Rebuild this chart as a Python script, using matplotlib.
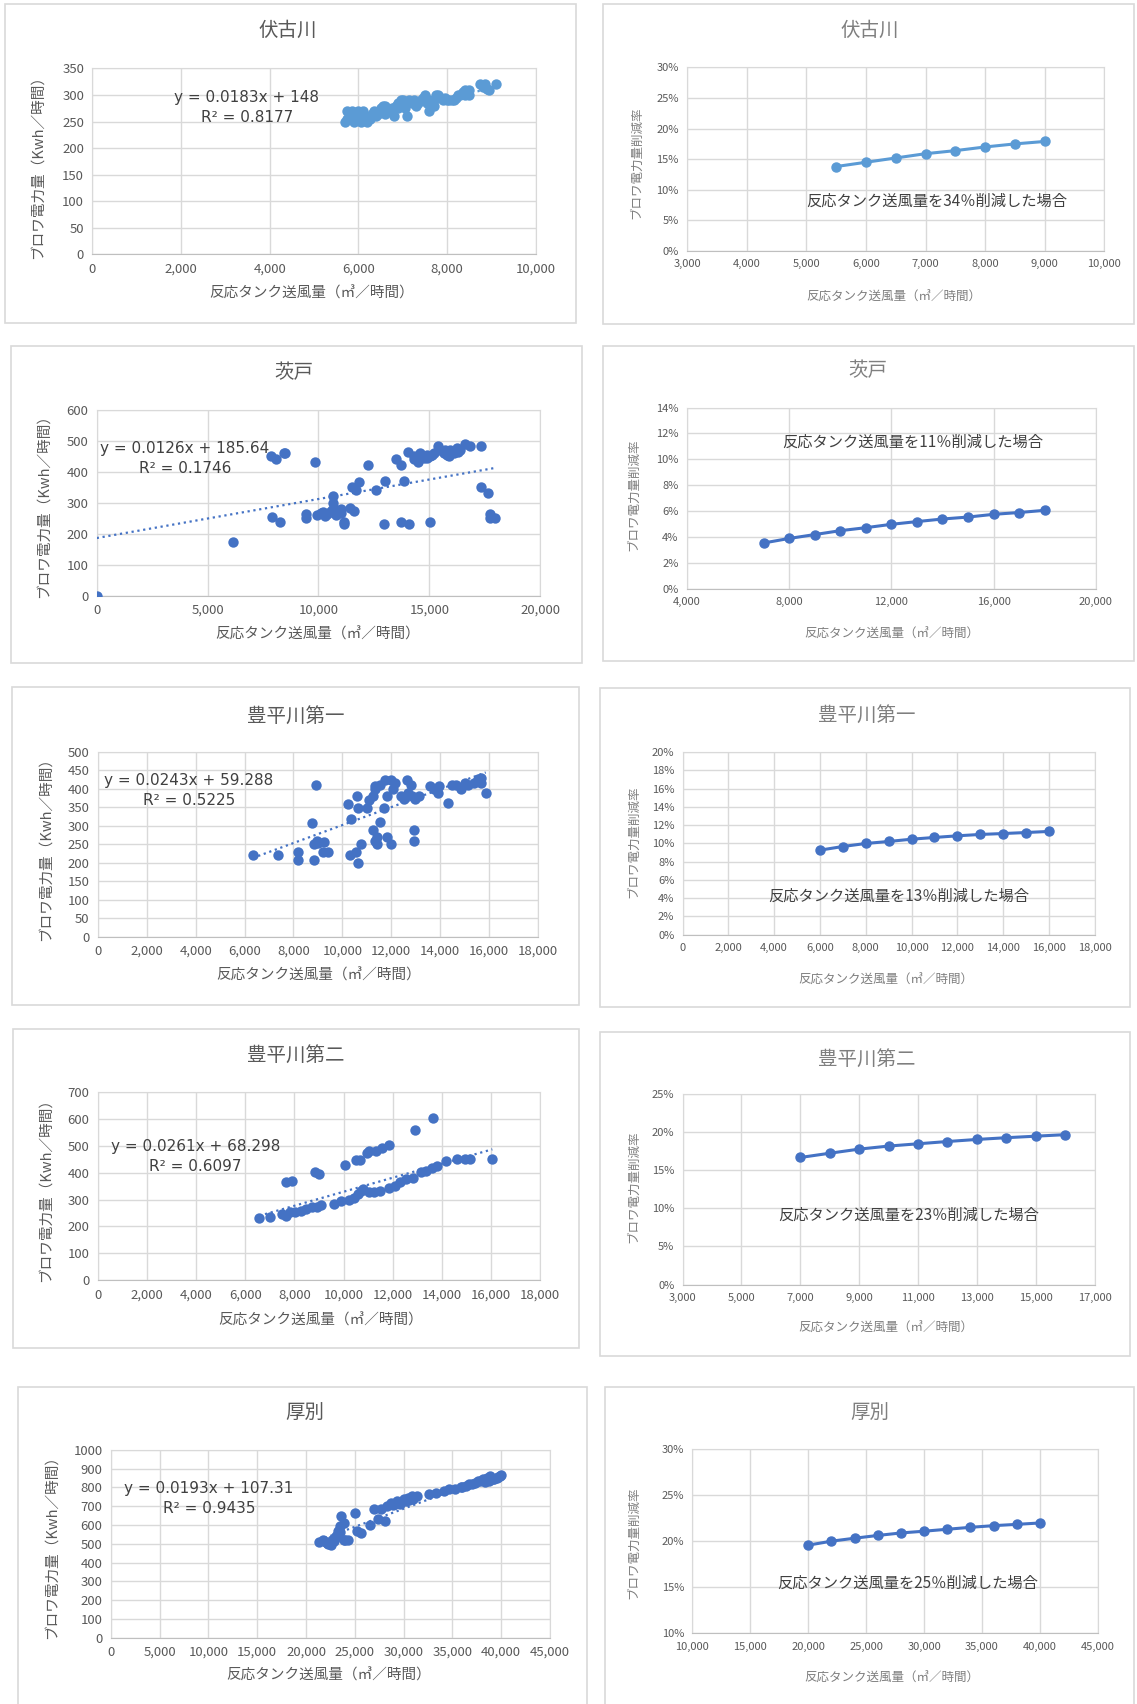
import numpy as np
import matplotlib.pyplot as plt
from matplotlib.patches import Rectangle
from matplotlib.ticker import FuncFormatter

plt.rcParams['font.family'] = ['Noto Sans CJK JP', 'DejaVu Sans']

# ---- data: left scatter panels (air volume m3/h, blower kWh/h) ----
fushiko_x = [5700, 5750, 5800, 5850, 5900, 5950, 6000, 6050, 6100, 6150, 6200, 6300, 6350, 6400,
             6500, 6550, 6600, 6700, 6750, 6800, 6850, 6900, 6950, 7000, 7050, 7100, 7150, 7200,
             7300, 7400, 7500, 7550, 7600, 7650, 7700, 7800, 7850, 7900, 8000, 8100, 8200, 8300,
             8400, 8450, 8500, 8750, 8850, 8950, 9100,
             5750, 5850, 5950, 6050, 6100, 6250, 6450, 6600, 6650, 6900, 7000, 7100, 7250, 7350,
             7450, 7600, 7700, 7750, 7950, 8050, 8150, 8250, 8350, 8400, 8500, 8800, 8900]
fushiko_y = [250, 270, 255, 260, 250, 265, 270, 250, 255, 260, 250, 265, 270, 260,
             275, 280, 265, 270, 275, 260, 280, 285, 290, 280, 275, 260, 290, 285,
             280, 290, 300, 285, 270, 280, 290, 300, 295, 290, 290, 290, 295, 300,
             310, 305, 300, 320, 320, 310, 320,
             255, 270, 255, 265, 270, 255, 265, 280, 270, 275, 290, 285, 290, 285,
             295, 290, 280, 300, 295, 290, 290, 300, 305, 300, 310, 315, 312]

barato_x = [0, 7850, 8100, 8430, 8500, 9840, 7900, 8270, 6140, 9430, 9430, 9930, 10100, 10300,
            10500, 10670, 10670, 10800, 11000, 11170, 11170, 11420, 11580, 11500, 11670, 11830,
            12250, 12580, 12950, 13000, 13490, 13740, 13740, 13860, 14040, 14070, 14300, 14450,
            14600, 14750, 14900, 15050, 15020, 15400, 15500, 15650, 15800, 15950, 16100, 16250,
            16400, 16600, 16810, 17310, 17340, 17640, 17730, 17730, 17980,
            14300, 14500, 14700, 14900, 15100, 15200, 15700, 15900, 16100, 16300,
            10200, 10400, 10600, 10800, 11000]
barato_y = [0, 452, 442, 460, 460, 431, 252, 239, 172, 264, 250, 261, 265, 258,
            270, 320, 298, 275, 268, 239, 232, 282, 272, 352, 342, 368,
            420, 342, 230, 371, 442, 420, 239, 371, 463, 230, 450, 440,
            460, 445, 455, 450, 239, 482, 470, 460, 455, 470, 465, 476,
            470, 489, 482, 482, 349, 331, 264, 250, 250,
            440, 430, 450, 445, 455, 460, 470, 450, 460, 465,
            270, 262, 275, 260, 280]

toyo1_x = [6330, 7380, 8180, 8180, 8750, 8930, 8820, 8850, 8950, 9000, 9230, 9200, 9420, 10230,
           10350, 10320, 10580, 10650, 10550, 10650, 10770, 10995, 11070, 11250, 11320, 11350,
           11270, 11350, 11430, 11400, 11550, 11550, 11700, 11750, 11820, 11820, 12000, 12000,
           12080, 12150, 12380, 12500, 12630, 12680, 12830, 12800, 12930, 12930, 12980, 13130,
           13580, 13730, 13950, 13920, 14300, 14480, 14630, 14850, 15000, 15150, 15380, 15530,
           15650, 15680, 15860]
toyo1_y = [220, 220, 230, 209, 309, 410, 209, 250, 260, 255, 257, 230, 230, 360,
           319, 220, 381, 349, 230, 200, 250, 349, 370, 381, 408, 399,
           290, 259, 250, 270, 412, 310, 349, 425, 381, 270, 425, 250,
           399, 417, 381, 372, 425, 390, 381, 410, 290, 259, 372, 381,
           408, 399, 408, 390, 361, 410, 410, 401, 417, 412, 417, 426,
           430, 417, 390]

toyo2_x = [7650, 7880, 8850, 9000, 10050, 10500, 10650, 10950, 11030, 11330, 11550, 11850, 12900,
           13620, 6570, 7020, 7500, 7650, 7800, 8020, 8250, 8480, 8700, 8930, 9100, 9600, 9900,
           10200, 10420, 10580, 10700, 10800, 11030, 11250, 11480, 11850, 12080, 12300, 12530,
           12830, 13130, 13350, 13580, 13800, 14180, 14630, 14930, 15150, 16050]
toyo2_y = [364, 370, 403, 397, 428, 446, 446, 475, 481, 481, 493, 503, 559,
           604, 232, 237, 247, 240, 253, 253, 259, 265, 271, 274, 281, 284, 296,
           300, 306, 321, 333, 339, 327, 327, 333, 345, 351, 364, 376,
           382, 401, 407, 419, 425, 444, 450, 450, 450, 452]

atsubetsu_x = [21360, 21750, 22130, 22520, 22900, 23100, 23290, 23480, 23600, 23870, 23870, 24260,
               25030, 25220, 25610, 26570, 26960, 27350, 27730, 28120, 28310, 28700, 29080, 29280,
               29660, 30050, 30440, 30820, 31400, 32560, 33340, 34110, 34690, 35270, 35850, 36430,
               37010, 37590, 38170, 38550, 38750, 39140, 39520, 39910,
               22000, 22300, 22700, 23000, 23300, 23500, 24000, 28900, 29500, 30200, 30600, 31000,
               36000, 36700, 37300, 37800, 38300, 38900, 39300, 39700, 40000]
atsubetsu_y = [510, 522, 504, 495, 513, 540, 567, 594, 647, 611, 522, 522,
               661, 567, 558, 602, 683, 629, 683, 620, 701, 719, 710, 727,
               710, 736, 745, 754, 754, 763, 772, 781, 790, 790, 799, 808,
               816, 834, 843, 852, 834, 843, 852, 861,
               510, 500, 520, 530, 550, 560, 520, 705, 720, 725, 735, 740,
               800, 815, 825, 835, 830, 860, 845, 855, 865]

# trendline coefficients shown on the charts
fits = [(0.0183, 148, '0.8177'), (0.0126, 185.64, '0.1746'), (0.0243, 59.288, '0.5225'),
        (0.0261, 68.298, '0.6097'), (0.0193, 107.31, '0.9435')]

# ---- data: right line panels (air volume, reduction rate %) ----
fushiko_lx = [5500, 6000, 6500, 7000, 7500, 8000, 8500, 9000]
fushiko_ly = [13.8, 14.5, 15.2, 15.9, 16.4, 17.0, 17.5, 17.9]
barato_lx = [7000, 8000, 9000, 10000, 11000, 12000, 13000, 14000, 15000, 16000, 17000, 18000]
barato_ly = [3.55, 3.9, 4.2, 4.5, 4.73, 4.99, 5.2, 5.4, 5.55, 5.76, 5.9, 6.07]
toyo1_lx = [6000, 7000, 8000, 9000, 10000, 11000, 12000, 13000, 14000, 15000, 16000]
toyo1_ly = [9.25, 9.65, 9.98, 10.2, 10.45, 10.64, 10.82, 10.97, 11.07, 11.18, 11.3]
toyo2_lx = [7000, 8000, 9000, 10000, 11000, 12000, 13000, 14000, 15000, 16000]
toyo2_ly = [16.7, 17.26, 17.8, 18.2, 18.5, 18.8, 19.07, 19.3, 19.5, 19.7]
atsubetsu_lx = [20000, 22000, 24000, 26000, 28000, 30000, 32000, 34000, 36000, 38000, 40000]
atsubetsu_ly = [19.55, 19.98, 20.3, 20.6, 20.87, 21.06, 21.27, 21.48, 21.66, 21.8, 21.95]

titles = ['伏古川', '茨戸', '豊平川第一', '豊平川第二', '厚別']
cuts = ['34', '11', '13', '23', '25']

W, H = 1046, 1568
GRID = '#d9d9d9'
TXT = '#595959'
C1 = '#5b9bd5'
C2 = '#4472c4'


def axes_at(fig, x0, y0, x1, y1):
    return fig.add_axes([x0 / W, 1 - y1 / H, (x1 - x0) / W, (y1 - y0) / H])


def frame(fig, x0, y0, x1, y1):
    fig.patches.append(Rectangle((x0 / W, 1 - y1 / H), (x1 - x0) / W, (y1 - y0) / H,
                                 transform=fig.transFigure, fill=False, ec=GRID, lw=1.2))


def text(fig, x, y, s, **kw):
    fig.text(x / W, 1 - y / H, s, ha='center', va='center', **kw)


def style(ax, xlim, xticks, ylim, yticks, fmt_y, fs):
    ax.set_xlim(*xlim)
    ax.set_ylim(*ylim)
    ax.set_xticks(xticks)
    ax.set_yticks(yticks)
    ax.xaxis.set_major_formatter(FuncFormatter(lambda v, p: f'{int(v):,}'))
    ax.yaxis.set_major_formatter(FuncFormatter(fmt_y))
    ax.grid(color=GRID, lw=1)
    ax.set_axisbelow(True)
    for s in ax.spines.values():
        s.set_color(GRID)
    ax.spines['bottom'].set_color('#bfbfbf')
    ax.tick_params(length=0, labelsize=fs, colors=TXT, pad=6)


fig = plt.figure(figsize=(11.37, 17.04), dpi=100)

# left panels: frame, plot box, title xy, xlabel xy, ylabel xy
left_layout = [
    ((5, 4, 530, 297), (85, 63, 493, 234), (265, 28), (287, 270), (35, 150)),
    ((10, 318, 535, 610), (89, 377, 497, 548), (270, 343), (292, 584), (40, 462)),
    ((11, 632, 533, 925), (90, 692, 495, 862), (272, 659), (293, 898), (42, 778)),
    ((12, 947, 533, 1240), (90, 1005, 497, 1178), (272, 971), (295, 1215), (42, 1092)),
    ((17, 1276, 540, 1580), (102, 1334, 506, 1507), (280, 1300), (302, 1542), (48, 1420)),
]
left_data = [(fushiko_x, fushiko_y), (barato_x, barato_y), (toyo1_x, toyo1_y),
             (toyo2_x, toyo2_y), (atsubetsu_x, atsubetsu_y)]
left_axes = [((0, 10000), range(0, 10001, 2000), (0, 350), range(0, 351, 50)),
             ((0, 20000), range(0, 20001, 5000), (0, 600), range(0, 601, 100)),
             ((0, 18000), range(0, 18001, 2000), (0, 500), range(0, 501, 50)),
             ((0, 18000), range(0, 18001, 2000), (0, 700), range(0, 701, 100)),
             ((0, 45000), range(0, 45001, 5000), (0, 1000), range(0, 1001, 100))]
eq_pos = [(0.348, 0.842, 0.737), (0.199, 0.79, 0.684), (0.207, 0.847, 0.735),
          (0.221, 0.711, 0.607), (0.223, 0.792, 0.688)]

for i in range(5):
    fr, box, tp, xp, yp = left_layout[i]
    frame(fig, *fr)
    ax = axes_at(fig, *box)
    xs, ys = left_data[i]
    col = C1 if i == 0 else C2
    xlim, xt, ylim, yt = left_axes[i]
    style(ax, xlim, xt, ylim, yt, lambda v, p: f'{int(v)}', 9.5)
    ax.scatter(xs, ys, s=56, color=col, zorder=3, lw=0)
    a, b, r2 = fits[i]
    lo = 0 if i == 1 else min(xs)
    tx = np.array([lo, max(xs)])
    ax.plot(tx, a * tx + b, ls=':', color=col, lw=1.6, zorder=4)
    ex, ey, ry = eq_pos[i]
    ax.text(ex, ey, f'y = {a}x + {b}', transform=ax.transAxes, ha='center', va='center',
            fontsize=11, color='#404040', family='DejaVu Sans')
    ax.text(ex, ry, f'R² = {r2}', transform=ax.transAxes, ha='center', va='center',
            fontsize=11, color='#404040', family='DejaVu Sans')
    text(fig, *tp, titles[i], fontsize=14, color=TXT)
    text(fig, *xp, '反応タンク送風量（㎥／時間）', fontsize=10.5, color=TXT)
    text(fig, *yp, 'ブロワ電力量（Kwh／時間）', fontsize=10.5, color=TXT, rotation=90)

# right panels
right_layout = [
    ((555, 4, 1043, 298), (632, 62, 1016, 231), (800, 28), (822, 274), (586, 150)),
    ((555, 318, 1043, 608), (632, 375, 1008, 542), (798, 341), (820, 584), (583, 455)),
    ((552, 633, 1040, 927), (628, 692, 1007, 860), (797, 658), (815, 902), (583, 775)),
    ((552, 950, 1040, 1248), (628, 1007, 1007, 1182), (797, 975), (815, 1222), (583, 1092)),
    ((557, 1276, 1043, 1580), (637, 1333, 1010, 1503), (800, 1300), (820, 1544), (583, 1420)),
]
right_data = [(fushiko_lx, fushiko_ly), (barato_lx, barato_ly), (toyo1_lx, toyo1_ly),
              (toyo2_lx, toyo2_ly), (atsubetsu_lx, atsubetsu_ly)]
right_axes = [((3000, 10000), range(3000, 10001, 1000), (0, 30), range(0, 31, 5)),
              ((4000, 20000), range(4000, 20001, 4000), (0, 14), range(0, 15, 2)),
              ((0, 18000), range(0, 18001, 2000), (0, 20), range(0, 21, 2)),
              ((3000, 17000), range(3000, 17001, 2000), (0, 25), range(0, 26, 5)),
              ((10000, 45000), range(10000, 45001, 5000), (10, 30), range(10, 31, 5))]
note_pos = [(0.599, 0.272), (0.553, 0.808), (0.525, 0.208), (0.549, 0.366), (0.531, 0.271)]

for i in range(5):
    fr, box, tp, xp, yp = right_layout[i]
    frame(fig, *fr)
    ax = axes_at(fig, *box)
    xs, ys = right_data[i]
    col = C1 if i == 0 else C2
    xlim, xt, ylim, yt = right_axes[i]
    style(ax, xlim, xt, ylim, yt, lambda v, p: f'{int(round(v))}%', 8)
    ax.plot(xs, ys, color=col, lw=2.2, marker='o', ms=6.5, zorder=3)
    nx, ny = note_pos[i]
    ax.text(nx, ny, f'反応タンク送風量を{cuts[i]}％削減した場合', transform=ax.transAxes,
            ha='center', va='center', fontsize=11, color='#404040')
    text(fig, *tp, titles[i], fontsize=14, color='#7f7f7f')
    text(fig, *xp, '反応タンク送風量（㎥／時間）', fontsize=9, color='#7f7f7f')
    text(fig, *yp, 'ブロワ電力量削減率', fontsize=9, color='#7f7f7f', rotation=90)

fig.savefig('out.png', dpi=100, facecolor='white')
